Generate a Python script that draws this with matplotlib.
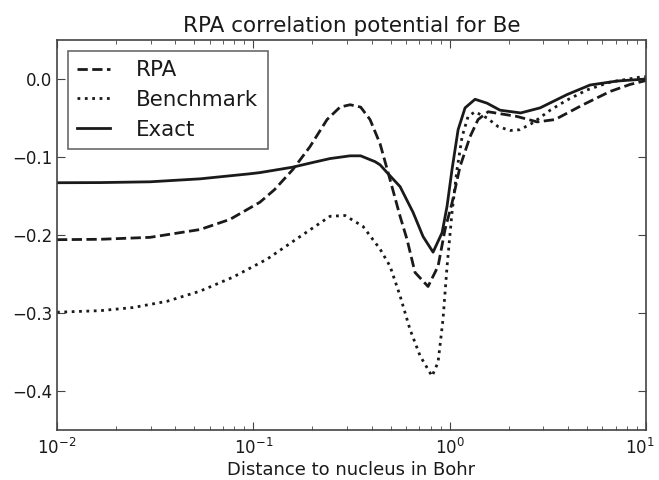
import matplotlib
matplotlib.use("Agg")
import matplotlib.pyplot as plt
from matplotlib.transforms import ScaledTranslation

# values (x in Bohr, y in Hartree)
exact_x = [0.01, 0.0166, 0.0298, 0.0535, 0.0962, 0.108, 0.159, 0.201, 0.246, 0.311,
           0.352, 0.417, 0.442, 0.48, 0.559, 0.651, 0.732, 0.823, 0.915, 0.970,
           1.028, 1.104, 1.198, 1.347, 1.55, 1.806, 2.3, 2.89, 3.96, 5.19,
           7.13, 10.0]
exact_y = [-0.133, -0.1328, -0.1318, -0.128, -0.1215, -0.120, -0.113, -0.107, -0.102, -0.0985,
           -0.0985, -0.106, -0.110, -0.120, -0.138, -0.171, -0.202, -0.222, -0.197, -0.163,
           -0.116, -0.065, -0.037, -0.026, -0.031, -0.040, -0.0435, -0.037, -0.020, -0.0077,
           -0.0026, 0.0]

rpa_x = [0.01, 0.0166, 0.0298, 0.0535, 0.076, 0.108, 0.128, 0.159, 0.194, 0.2374,
         0.2765, 0.311, 0.352, 0.393, 0.442, 0.497, 0.559, 0.607, 0.666, 0.776,
         0.873, 0.947, 1.028, 1.13, 1.27, 1.395, 1.57, 2.2, 2.79, 3.44,
         4.78, 6.56, 8.29, 10.0]
rpa_y = [-0.206, -0.2055, -0.203, -0.193, -0.180, -0.158, -0.142, -0.116, -0.087, -0.052,
         -0.036, -0.033, -0.036, -0.052, -0.083, -0.129, -0.176, -0.206, -0.248, -0.266,
         -0.240, -0.193, -0.159, -0.112, -0.074, -0.052, -0.042, -0.048, -0.055, -0.052,
         -0.033, -0.016, -0.007, -0.002]

bench_x = [0.01, 0.0166, 0.0244, 0.0363, 0.0535, 0.0788, 0.1174, 0.173, 0.246, 0.293,
           0.362, 0.442, 0.497, 0.559, 0.628, 0.707, 0.813, 0.873, 0.925, 0.970,
           1.028, 1.09, 1.157, 1.241, 1.347, 1.55, 1.765, 2.03, 2.28, 2.66,
           3.25, 3.96, 5.01, 6.56, 9.6, 10.0]
bench_y = [-0.299, -0.297, -0.293, -0.285, -0.272, -0.254, -0.231, -0.202, -0.176, -0.175,
           -0.189, -0.218, -0.240, -0.278, -0.321, -0.355, -0.381, -0.363, -0.308, -0.240,
           -0.171, -0.116, -0.074, -0.048, -0.042, -0.050, -0.061, -0.066, -0.065, -0.056,
           -0.040, -0.027, -0.014, -0.004, 0.003, 0.003]

x_ticks = [0.01, 0.1, 1.0, 10.0]
y_ticks = [-0.4, -0.3, -0.2, -0.1, 0.0]

ink = "#1a1a1a"
spine_col = "#444444"

fig = plt.figure(figsize=(6.59, 4.8), dpi=100)
ax = fig.add_axes([57 / 659, 1 - 430 / 480, (646 - 57) / 659, (430 - 40) / 480])

ax.plot(rpa_x, rpa_y, "--", color=ink, lw=2, label="RPA")
ax.plot(bench_x, bench_y, ":", color=ink, lw=2, label="Benchmark")
ax.plot(exact_x, exact_y, "-", color=ink, lw=2, label="Exact")

ax.set_xscale("log")
ax.set_xlim(0.01, 10)
ax.set_ylim(-0.45, 0.05)
ax.set_xticks(x_ticks)
ax.set_yticks(y_ticks)

for s in ax.spines.values():
    s.set_color(spine_col)
    s.set_linewidth(1.2)

# classic look: ticks inside on all four sides
ax.tick_params(which="both", direction="in", top=True, right=True,
               colors=spine_col, labelcolor=ink, labelsize=12)
ax.tick_params(which="major", length=6)
ax.tick_params(which="minor", length=3)
ax.tick_params(axis="x", pad=6)

# nudge the last x label so it stays inside the figure, as in the original
last = ax.get_xticklabels()[-1]
last.set_transform(last.get_transform() + ScaledTranslation(-6 / 100, 0, fig.dpi_scale_trans))

ax.set_title("RPA correlation potential for Be", fontsize=15.5, color=ink)
ax.set_xlabel("Distance to nucleus in Bohr", fontsize=13, color=ink, labelpad=2)

leg = ax.legend(loc="upper left", fontsize=15.4, fancybox=False, frameon=True,
                handlelength=1.55, handletextpad=1.2, labelspacing=0.45,
                borderaxespad=0.5, borderpad=0.45)
leg.get_frame().set_edgecolor(spine_col)
leg.get_frame().set_linewidth(1.2)
for t in leg.get_texts():
    t.set_color(ink)

fig.savefig("out.png", dpi=100)
